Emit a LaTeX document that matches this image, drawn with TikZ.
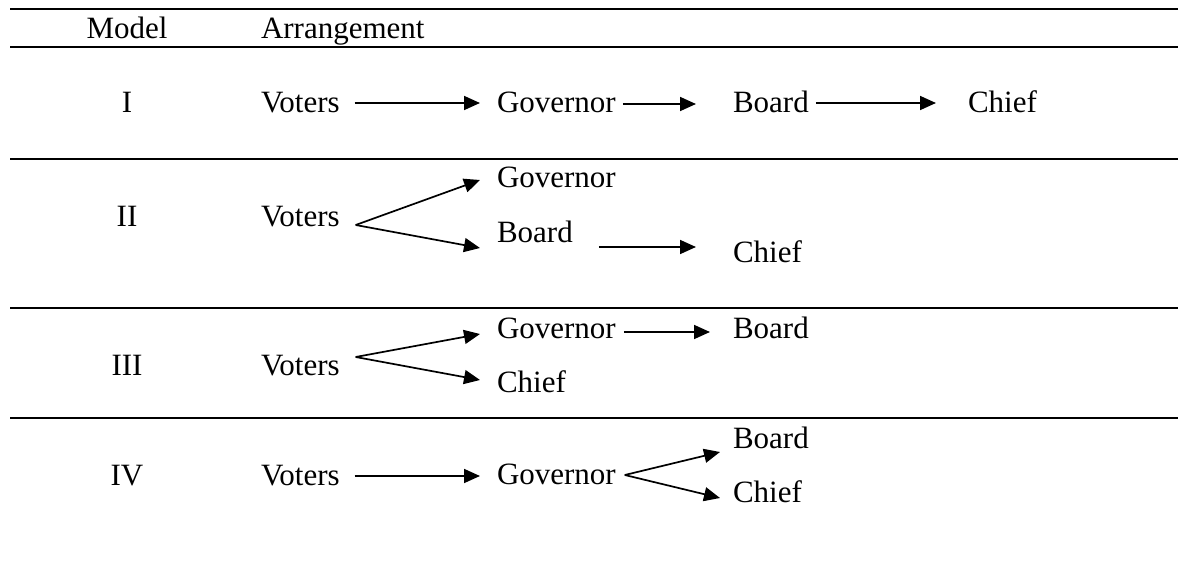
\documentclass[tikz,border=0pt]{standalone}
\usepackage{fontspec}
\setmainfont{Liberation Serif}
\usetikzlibrary{arrows.meta}
\begin{document}
\begin{tikzpicture}[x=1pt,y=-1pt,
  txt/.style={inner sep=0pt, outer sep=0pt, anchor=base west, font=\fontsize{31}{37}\selectfont},
  ctxt/.style={txt, anchor=base},
  rulel/.style={line width=1.8pt},
  arr/.style={line width=1.7pt, -{Triangle[length=16pt,width=14pt]}}]
\useasboundingbox (0,0) rectangle (1178,564);
% rules
\coordinate (r1l) at (10,9);   \coordinate (r1r) at (1178,9);
\coordinate (r2l) at (10,47);  \coordinate (r2r) at (1178,47);
\coordinate (r3l) at (10,159); \coordinate (r3r) at (1178,159);
\coordinate (r4l) at (10,308); \coordinate (r4r) at (1178,308);
\coordinate (r5l) at (10,418); \coordinate (r5r) at (1178,418);
\draw[rulel] (r1l) -- (r1r);
\draw[rulel] (r2l) -- (r2r);
\draw[rulel] (r3l) -- (r3r);
\draw[rulel] (r4l) -- (r4r);
\draw[rulel] (r5l) -- (r5r);
% header
\node[ctxt] (hm) at (127,39) {Model};
\node[txt] (ha) at (261,39) {Arrangement};
% row I
\node[ctxt] (m1) at (127,113) {I};
\node[txt] (v1) at (261,113) {Voters};
\node[txt] (g1) at (497,113) {Governor};
\node[txt] (b1) at (733,113) {Board};
\node[txt] (c1) at (968,113) {Chief};
\draw[arr] ([shift={(15,-10)}]v1.base east) -- ([shift={(-17,-10)}]g1.base west);
\draw[arr] ([shift={(7,-9)}]g1.base east) -- ([shift={(-37,-9)}]b1.base west);
\draw[arr] ([shift={(7,-10)}]b1.base east) -- ([shift={(-32,-10)}]c1.base west);
% row II
\node[ctxt] (m2) at (127,227) {II};
\node[txt] (v2) at (261,227) {Voters};
\node[txt] (g2) at (497,188) {Governor};
\node[txt] (b2) at (497,243) {Board};
\node[txt] (c2) at (733,262) {Chief};
\draw[arr] ([shift={(16,-2)}]v2.base east) -- ([shift={(-17,-8)}]g2.base west);
\draw[arr] ([shift={(16,-2)}]v2.base east) -- ([shift={(-17,5)}]b2.base west);
\draw[arr] ([shift={(26,4)}]b2.base east) -- ([shift={(-37,-15)}]c2.base west);
% row III
\node[ctxt] (m3) at (127,375) {III};
\node[txt] (v3) at (261,375) {Voters};
\node[txt] (g3) at (497,338) {Governor};
\node[txt] (b3) at (733,338) {Board};
\node[txt] (c3) at (497,392) {Chief};
\draw[arr] ([shift={(16,-18)}]v3.base east) -- ([shift={(-17,-4)}]g3.base west);
\draw[arr] ([shift={(16,-18)}]v3.base east) -- ([shift={(-17,-12)}]c3.base west);
\draw[arr] ([shift={(8,-6)}]g3.base east) -- ([shift={(-23,-6)}]b3.base west);
% row IV
\node[ctxt] (m4) at (127,485) {IV};
\node[txt] (v4) at (261,485) {Voters};
\node[txt] (g4) at (497,484) {Governor};
\node[txt] (b4) at (733,448) {Board};
\node[txt] (c4) at (733,502) {Chief};
\draw[arr] ([shift={(15,-9)}]v4.base east) -- ([shift={(-17,-8)}]g4.base west);
\draw[arr] ([shift={(9,-9)}]g4.base east) -- ([shift={(-13,4)}]b4.base west);
\draw[arr] ([shift={(9,-9)}]g4.base east) -- ([shift={(-13,-4)}]c4.base west);
\end{tikzpicture}
\end{document}
